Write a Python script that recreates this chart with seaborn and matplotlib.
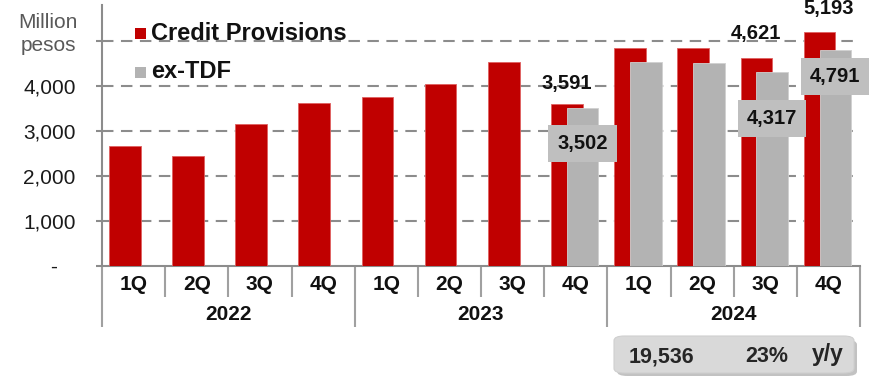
import matplotlib
matplotlib.use("Agg")
import matplotlib.pyplot as plt
from matplotlib.patches import FancyBboxPatch, Rectangle
import seaborn as sns
import numpy as np
import pandas as pd

# Quarterly credit provisions (million pesos)
quarters = ["1Q", "2Q", "3Q", "4Q"] * 3
years = ["2022", "2023", "2024"]
credit_provisions = [2667, 2432, 3142, 3622, 3764, 4038, 4533, 3591, 4849, 4849, 4621, 5193]
ex_tdf = [np.nan] * 7 + [3502, 4530, 4501, 4317, 4791]
y_ticks = [0, 1000, 2000, 3000, 4000, 5000]
y_tick_labels = ["-   ", "1,000", "2,000", "3,000", "4,000", ""]
annual_total = "19,536"
annual_growth = "23%"

RED = "#C00000"
GREY = "#B3B3B3"
LABEL_BOX = "#BFBFBF"

sns.set_theme(style="white")
plt.rcParams["font.family"] = ["Liberation Sans", "DejaVu Sans"]

idx = np.arange(len(quarters))
df = pd.DataFrame({
    "idx": idx,
    "credit": credit_provisions,
    "ex_tdf": ex_tdf,
})
df["x_red"] = df["idx"] - 0.14
df["x_grey"] = df["idx"] + 0.11

fig = plt.figure(figsize=(8.69, 3.79), dpi=100)
ax = fig.add_axes([102 / 869, 1 - 265.7 / 379, 758 / 869, 260.7 / 379])

sns.barplot(data=df, x="x_red", y="credit", native_scale=True, width=0.5,
            color=RED, saturation=1, edgecolor="#E06060", linewidth=0.6,
            ax=ax, zorder=3)
sns.barplot(data=df.dropna(), x="x_grey", y="ex_tdf", native_scale=True,
            width=0.5, color=GREY, saturation=1, edgecolor="#D0D0D0",
            linewidth=0.6, ax=ax, zorder=4)

ax.set_xlim(-0.5, len(quarters) - 0.5)
ax.set_ylim(0, 5800)
ax.set_xlabel("")
ax.set_ylabel("")

# dashed grid
for v in y_ticks[1:]:
    ax.axhline(v, xmin=0, xmax=0.997, color="#8C8C8C", lw=1.5,
               dashes=(5.5, 3.6), zorder=1)

for side in ["top", "right"]:
    ax.spines[side].set_visible(False)
for side in ["left", "bottom"]:
    ax.spines[side].set_color("#8C8C8C")
    ax.spines[side].set_linewidth(1.5)

ax.set_yticks(y_ticks)
ax.set_yticklabels(y_tick_labels, fontsize=15, color="#1A1A1A")
ax.tick_params(axis="y", length=4, width=1.5, color="#8C8C8C", pad=15, left=True)

ax.set_xticks(idx)
ax.set_xticklabels(quarters, fontsize=15, fontweight="bold", color="#111111")
ax.tick_params(axis="x", length=0, pad=7)

# category separators below the axis
xt = ax.get_xaxis_transform()
px = 1 / 260.7
for b in np.arange(0.5, len(quarters) - 0.5, 1.0):
    if b in (3.5, 7.5):
        continue
    ax.plot([b, b], [0, -31 * px], transform=xt, color="#A0A0A0", lw=1.5,
            clip_on=False, solid_capstyle="butt")
for b in [-0.5, 3.5, 7.5, 11.5]:
    ax.plot([b, b], [0, -61 * px], transform=xt, color="#A0A0A0", lw=1.5,
            clip_on=False, solid_capstyle="butt")
for i, yr in enumerate(years):
    ax.text(4 * i + 1.5, -48.5 * px, yr, transform=xt, ha="center",
            va="center", fontsize=15, fontweight="bold", color="#111111")

# unit label
fig.text(48 / 869, 1 - 34 / 379, "Million\npesos", ha="center", va="center",
         fontsize=15, color="#595959", linespacing=1.3)

# legend
mk_w, mk_h = 0.18, 245
ax.add_patch(Rectangle((0.02, 5171 - mk_h / 2), mk_w, mk_h, fc=RED, ec="none",
                       zorder=6))
ax.add_patch(Rectangle((0.02, 4300 - mk_h / 2), mk_w, mk_h, fc=GREY, ec="none",
                       zorder=6))
ax.text(0.28, 5016, "Credit Provisions", fontsize=17, fontweight="bold",
        color="#111111", ha="left", va="baseline", zorder=6)
ax.text(0.28, 4178, "ex-TDF", fontsize=17, fontweight="bold",
        color="#111111", ha="left", va="baseline", zorder=6)

# value labels above red bars
def fmt(v):
    return f"{v:,.0f}"

for i, dy in [(7, 460), (10, 540), (11, 520)]:
    x = df.loc[i, "x_red"] if i != 11 else i
    ax.text(x, credit_provisions[i] + dy, fmt(credit_provisions[i]),
            ha="center", va="center", fontsize=14.5, fontweight="bold",
            color="#111111", zorder=6, clip_on=False)

# value labels inside boxes for ex-TDF bars
for i, dy in [(7, -790), (10, -1040), (11, -580)]:
    ax.text(df.loc[i, "x_grey"], ex_tdf[i] + dy, fmt(ex_tdf[i]),
            ha="center", va="center", fontsize=14.5, fontweight="bold",
            color="#111111", zorder=6, clip_on=False,
            bbox=dict(boxstyle="square,pad=0.45", fc=LABEL_BOX, ec="none"))

# annual summary box
shadow = FancyBboxPatch((617 / 869, 1 - 376 / 379), 240 / 869, 36 / 379,
                        boxstyle="round,pad=0,rounding_size=0.012",
                        transform=fig.transFigure, fc="#9A9A9A", ec="none",
                        alpha=0.6, zorder=1)
box = FancyBboxPatch((614 / 869, 1 - 373 / 379), 240 / 869, 37 / 379,
                     boxstyle="round,pad=0,rounding_size=0.012",
                     transform=fig.transFigure, fc="#D9D9D9", ec="#CFCFCF",
                     lw=0.8, zorder=2)
fig.add_artist(shadow)
fig.add_artist(box)
fig.text(661 / 869, 1 - 357 / 379, annual_total, ha="center", va="center",
         fontsize=15.5, fontweight="bold", color="#262626", zorder=3)
fig.text(767 / 869, 1 - 357 / 379, annual_growth, ha="center", va="center",
         fontsize=15.5, fontweight="bold", color="#262626", zorder=3)
fig.text(828 / 869, 1 - 355 / 379, "y/y", ha="center", va="center",
         fontsize=16.5, fontweight="bold", color="#262626", zorder=3)

fig.savefig("out.png", dpi=100)
